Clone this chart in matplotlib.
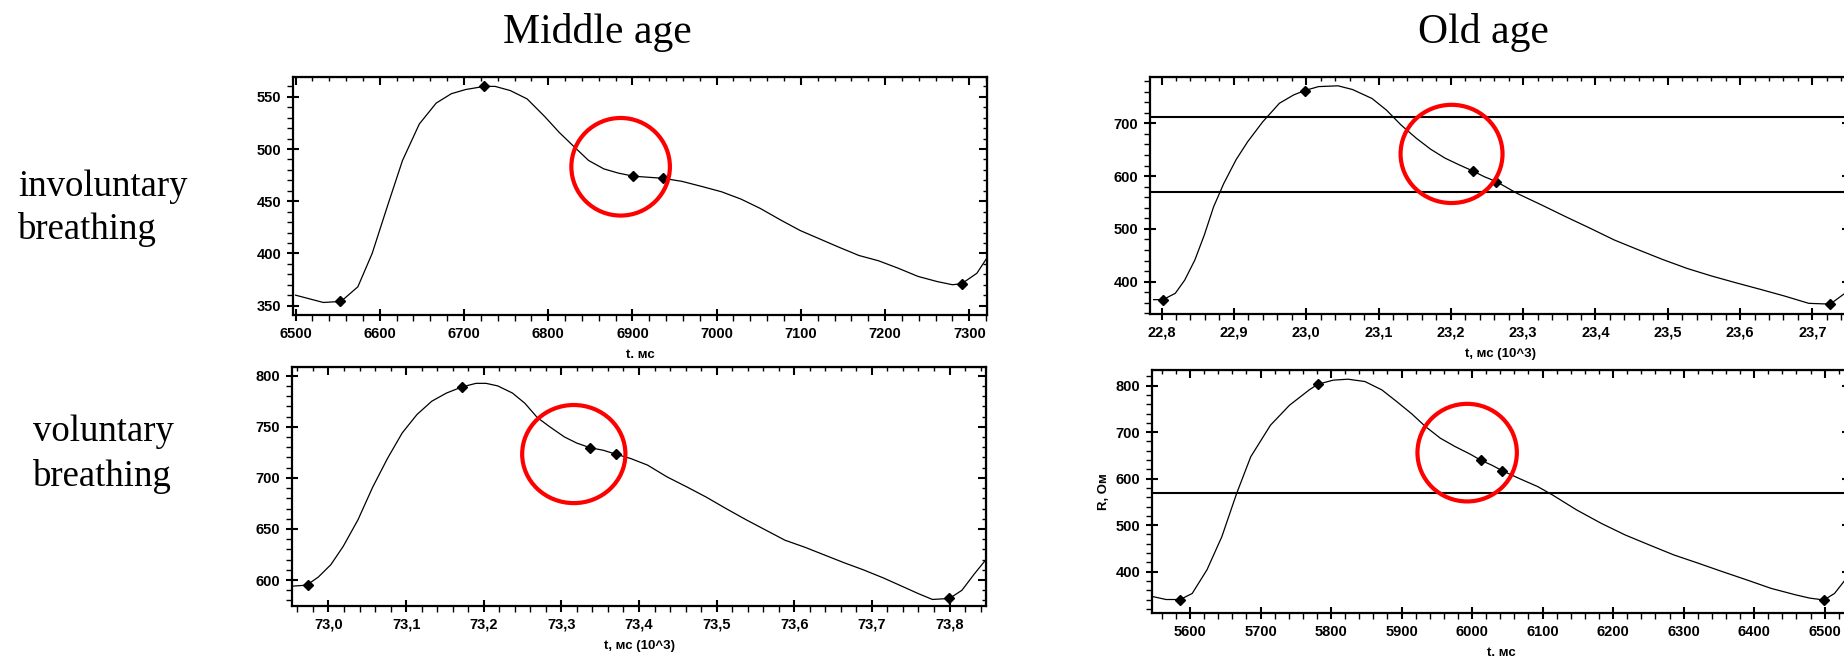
import matplotlib
matplotlib.use("Agg")
import matplotlib.pyplot as plt
from matplotlib.patches import Ellipse
from matplotlib.ticker import MultipleLocator, FuncFormatter

# ---- data ----
# middle age, involuntary breathing (t in ms)
mi_t = [6500, 6533, 6554, 6574, 6591, 6609, 6627, 6647, 6667, 6685, 6702, 6724,
        6737, 6755, 6775, 6796, 6813, 6831, 6848, 6866, 6883, 6901, 6918, 6936,
        6959, 6983, 7006, 7029, 7052, 7076, 7099, 7122, 7145, 7169, 7192, 7215,
        7239, 7262, 7280, 7291, 7309, 7322]
mi_r = [360, 353, 354, 368, 400, 445, 489, 524, 544, 553, 557, 560,
        560, 556, 548, 531, 516, 502, 489, 481, 477, 474, 473, 472,
        469, 464, 459, 452, 443, 432, 422, 414, 406, 398, 393, 386,
        378, 373, 370, 371, 381, 397]
mi_mark_t = [6553, 6724, 6901, 6936, 7291]
mi_mark_r = [354, 560, 474, 472, 371]

# middle age, voluntary breathing (t in 10^3 ms)
mv_t = [72.953, 72.972, 72.987, 73.003, 73.019, 73.038, 73.057, 73.076, 73.095,
        73.114, 73.133, 73.152, 73.172, 73.190, 73.203, 73.218, 73.237, 73.253,
        73.269, 73.285, 73.304, 73.320, 73.337, 73.354, 73.371, 73.389, 73.411,
        73.436, 73.462, 73.487, 73.512, 73.538, 73.563, 73.588, 73.614, 73.639,
        73.664, 73.689, 73.715, 73.740, 73.759, 73.778, 73.800, 73.816, 73.832,
        73.848]
mv_r = [594, 595, 603, 615, 633, 659, 691, 719, 744,
        762, 775, 783, 789, 792.5, 792.5, 790, 783, 773,
        759, 750, 740, 734, 729.5, 727, 723, 719, 712.5,
        701, 691, 681, 670, 659, 649, 639, 632, 624.5,
        617, 610, 602, 593.5, 587, 581, 582, 590, 606,
        621]
mv_mark_t = [72.974, 73.172, 73.337, 73.371, 73.799]
mv_mark_r = [595, 789, 729.5, 723, 582]

# old age, involuntary breathing (t in 10^3 ms)
oi_t = [22.789, 22.802, 22.819, 22.832, 22.846, 22.859, 22.872, 22.886, 22.903,
        22.919, 22.940, 22.963, 22.983, 22.998, 23.017, 23.044, 23.064, 23.091,
        23.111, 23.131, 23.152, 23.172, 23.192, 23.212, 23.230, 23.246, 23.263,
        23.292, 23.326, 23.359, 23.393, 23.426, 23.460, 23.493, 23.527, 23.560,
        23.594, 23.628, 23.661, 23.695, 23.715, 23.725, 23.745, 23.760]
oi_r = [366, 366, 378, 403, 441, 488, 542, 586, 631,
        665, 703, 738, 754, 762, 769.5, 771, 764, 747,
        725, 697, 672, 651, 634, 621, 610, 599, 589.5,
        567, 545, 523, 501, 479, 460, 442, 425, 411,
        398, 385.5, 373, 359, 358, 358, 378, 395]
oi_mark_t = [22.802, 22.998, 23.230, 23.263, 23.725]
oi_mark_r = [366, 762, 610, 589.5, 358]
oi_levels = [711, 569]

# old age, voluntary breathing (t in ms)
ov_t = [5548, 5566, 5586, 5603, 5624, 5645, 5666, 5686, 5714, 5741, 5769, 5781,
        5803, 5824, 5848, 5872, 5893, 5914, 5934, 5955, 5976, 5997, 6012, 6028,
        6043, 6066, 6093, 6114, 6148, 6183, 6217, 6252, 6286, 6321, 6355, 6390,
        6424, 6459, 6479, 6499, 6514, 6528, 6540]
ov_r = [346, 340, 340, 353, 404, 475, 568, 647, 715, 758, 791, 803,
        812, 814, 809, 791, 766, 740, 712, 687, 669, 653, 640, 629,
        617, 601, 583, 565, 533, 504, 479, 457, 436, 418, 400, 382,
        364, 350, 343, 339, 353, 380, 400]
ov_mark_t = [5586, 5781, 6012, 6043, 6499]
ov_mark_r = [340, 803, 640, 617, 339]
ov_levels = [569]

# red circles: centre t, centre R, width (t units), height (R units)
circ_mi = (6886, 483, 117, 93.5)
circ_mv = (73.316, 723.3, 0.133, 96)
circ_oi = (23.201, 642, 0.141, 186)
circ_ov = (5993, 656, 141, 210)

W, H = 1844, 661
fig = plt.figure(figsize=(W / 100, H / 100), dpi=100)


def px_axes(left, top, right, bottom):
    return fig.add_axes([left / W, 1 - bottom / H, (right - left) / W, (bottom - top) / H])


comma = FuncFormatter(lambda v, p: f"{v:.1f}".replace(".", ","))
plain = FuncFormatter(lambda v, p: f"{v:.0f}")


def style(ax, xmaj, xmin, ymaj, ymin, xfmt):
    ax.xaxis.set_major_locator(MultipleLocator(xmaj))
    ax.xaxis.set_minor_locator(MultipleLocator(xmin))
    ax.yaxis.set_major_locator(MultipleLocator(ymaj))
    ax.yaxis.set_minor_locator(MultipleLocator(ymin))
    ax.xaxis.set_major_formatter(xfmt)
    ax.yaxis.set_major_formatter(plain)
    for s in ax.spines.values():
        s.set_linewidth(1.6)
    ax.tick_params(which="major", direction="inout", length=9, width=1.5,
                   labelsize=10.5, pad=4)
    ax.tick_params(which="minor", direction="out", length=4, width=1.0)
    for lab in ax.get_xticklabels() + ax.get_yticklabels():
        lab.set_fontfamily("Liberation Sans")
        lab.set_fontweight("bold")
    # inward ticks on top and right
    sx = ax.secondary_xaxis("top")
    sx.xaxis.set_major_locator(MultipleLocator(xmaj))
    sx.xaxis.set_minor_locator(MultipleLocator(xmin))
    sx.tick_params(which="major", direction="in", length=6, width=1.5, labeltop=False)
    sx.tick_params(which="minor", direction="in", length=3, width=1.0)
    sy = ax.secondary_yaxis("right")
    sy.yaxis.set_major_locator(MultipleLocator(ymaj))
    sy.yaxis.set_minor_locator(MultipleLocator(ymin))
    sy.tick_params(which="major", direction="in", length=6, width=1.5, labelright=False)
    sy.tick_params(which="minor", direction="in", length=3, width=1.0)


def panel(ax, t, r, mt, mr, circ, xlabel, levels=()):
    for lv in levels:
        ax.axhline(lv, color="black", lw=1.5)
    ax.plot(t, r, color="black", lw=0.9)
    ax.plot(mt, mr, ls="none", marker="D", ms=5, color="black")
    ax.add_patch(Ellipse((circ[0], circ[1]), circ[2], circ[3], fill=False,
                         edgecolor="#ff0000", lw=3, zorder=5))
    ax.set_xlabel(xlabel, fontsize=9.5, fontweight="bold",
                  fontfamily="Liberation Sans", labelpad=6)


ax1 = px_axes(293, 77, 987, 315)
panel(ax1, mi_t, mi_r, mi_mark_t, mi_mark_r, circ_mi, "t. мс")
ax1.set_xlim(6497, 7321)
ax1.set_ylim(341, 569)
style(ax1, 100, 20, 50, 10, plain)

ax2 = px_axes(292, 367, 986, 606)
panel(ax2, mv_t, mv_r, mv_mark_t, mv_mark_r, circ_mv, "t, мс (10^3)")
ax2.set_xlim(72.953, 73.847)
ax2.set_ylim(574.6, 808.5)
style(ax2, 0.1, 0.02, 50, 10, comma)

ax3 = px_axes(1150, 77, 1850, 314)
panel(ax3, oi_t, oi_r, oi_mark_t, oi_mark_r, circ_oi, "t, мс (10^3)", oi_levels)
ax3.set_xlim(22.784, 23.752)
ax3.set_ylim(338.8, 787.7)
style(ax3, 0.1, 0.02, 100, 20, comma)

ax4 = px_axes(1152, 370, 1850, 613)
panel(ax4, ov_t, ov_r, ov_mark_t, ov_mark_r, circ_ov, "t. мс", ov_levels)
ax4.set_xlim(5546, 6536)
ax4.set_ylim(311, 833.8)
style(ax4, 100, 20, 100, 20, plain)
ax4.set_ylabel("R, Ом", fontsize=9.5, fontweight="bold",
               fontfamily="Liberation Sans", labelpad=4)

serif = "Liberation Serif"
fig.text(597 / W, 1 - 43 / H, "Middle age", fontsize=30, family=serif,
         ha="center", va="baseline")
fig.text(1483 / W, 1 - 43 / H, "Old age", fontsize=30, family=serif,
         ha="center", va="baseline")
fig.text(18 / W, 1 - 196 / H, "involuntary", fontsize=26.5, family=serif, va="baseline")
fig.text(18 / W, 1 - 239 / H, "breathing", fontsize=26.5, family=serif, va="baseline")
fig.text(33 / W, 1 - 441 / H, "voluntary", fontsize=26.5, family=serif, va="baseline")
fig.text(33 / W, 1 - 486 / H, "breathing", fontsize=26.5, family=serif, va="baseline")

fig.savefig("out.png", dpi=100, facecolor="white")
